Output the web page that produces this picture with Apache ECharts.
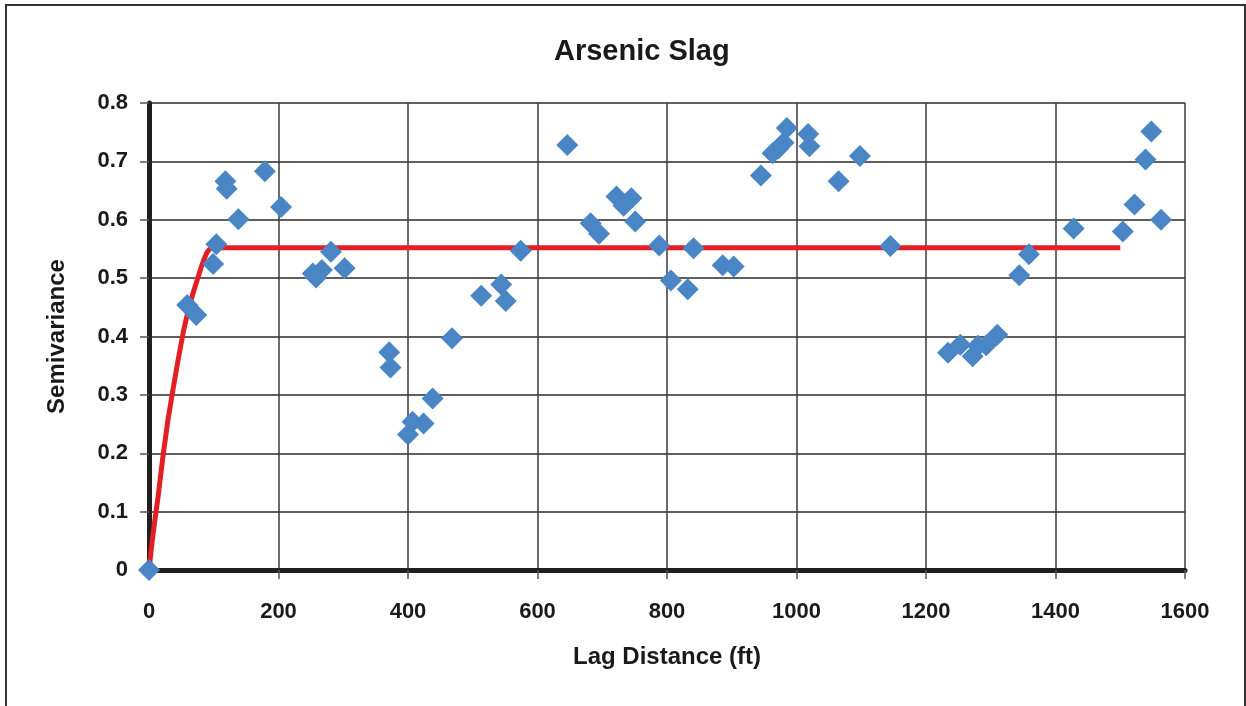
<!DOCTYPE html>
<html>
<head>
<meta charset="utf-8">
<script src="https://cdn.jsdelivr.net/npm/echarts@6/dist/echarts.min.js"></script>
<style>
  html, body { margin: 0; padding: 0; background: #fff; }
  #chart { width: 1246px; height: 706px; }
</style>
</head>
<body>
<div id="chart"></div>
<script>
// observed semivariance: lag distance (ft) and value
const lagX = [0, 59, 73, 99, 104, 118, 120, 138, 179, 204, 253, 258, 267, 281, 302,
  371, 373, 400, 407, 424, 438, 468, 513, 544, 551, 574,
  646, 682, 695, 722, 733, 745, 751, 788, 806, 832, 841, 886, 903,
  945, 963, 972, 980, 985, 1018, 1020, 1065, 1098, 1145,
  1234, 1253, 1272, 1280, 1293, 1310, 1344, 1359, 1428, 1504, 1522, 1539, 1548, 1563]
const gammaY = [0, 0.454, 0.437, 0.524, 0.558, 0.666, 0.653, 0.601, 0.683, 0.622, 0.508, 0.501, 0.514, 0.545, 0.517,
  0.373, 0.347, 0.232, 0.254, 0.251, 0.294, 0.397, 0.47, 0.489, 0.461, 0.547,
  0.728, 0.594, 0.576, 0.64, 0.624, 0.637, 0.597, 0.556, 0.496, 0.481, 0.551, 0.522, 0.52,
  0.676, 0.714, 0.722, 0.732, 0.757, 0.747, 0.726, 0.666, 0.709, 0.555,
  0.372, 0.386, 0.366, 0.384, 0.385, 0.403, 0.505, 0.541, 0.585, 0.58, 0.626, 0.703, 0.751, 0.6]

// fitted model curve
const modelX = [0, 2, 5, 9, 14, 21, 29, 37, 45, 53, 61, 68, 75, 81, 86, 90, 94, 98, 102, 1500]
const modelY = [0, 0.02, 0.05, 0.085, 0.125, 0.19, 0.255, 0.309, 0.36, 0.408, 0.447, 0.474, 0.499, 0.52, 0.535, 0.545, 0.55, 0.552, 0.552, 0.552]

const xTicks = [0, 1600, 200]
const yTicks = [0, 0.8, 0.1]

const font = '"Liberation Sans", Arial, sans-serif'
const chart = echarts.init(document.getElementById('chart'), null, { renderer: 'canvas' })

chart.setOption({
  backgroundColor: '#fff',
  animation: false,
  title: {
    text: 'Arsenic Slag',
    left: 549,
    top: 32,
    textStyle: { fontFamily: font, fontWeight: 'bold', fontSize: 29, color: '#1a1a1a' }
  },
  grid: { left: 149, right: 61, top: 103, bottom: 136, containLabel: false },
  xAxis: {
    type: 'value',
    min: xTicks[0], max: xTicks[1], interval: xTicks[2],
    name: 'Lag Distance (ft)',
    nameLocation: 'middle',
    nameGap: 75,
    nameTextStyle: { fontFamily: font, fontWeight: 'bold', fontSize: 24, color: '#1a1a1a' },
    axisLine: { show: true, onZero: false, lineStyle: { color: '#231f20', width: 5 } },
    axisTick: { show: true, length: 9, lineStyle: { color: '#555', width: 1.5 } },
    axisLabel: {
      fontFamily: font, fontWeight: 'bold', fontSize: 22, color: '#1a1a1a', margin: 31,
      formatter: v => String(v)
    },
    splitLine: { show: true, lineStyle: { color: '#3a3a3a', width: 1.5 } }
  },
  yAxis: {
    type: 'value',
    min: yTicks[0], max: yTicks[1], interval: yTicks[2],
    name: 'Semivariance',
    nameLocation: 'middle',
    nameGap: 80,
    nameTextStyle: { fontFamily: font, fontWeight: 'bold', fontSize: 24, color: '#1a1a1a' },
    axisLine: { show: true, onZero: false, lineStyle: { color: '#231f20', width: 5 } },
    axisTick: { show: true, length: 9, lineStyle: { color: '#555', width: 1.5 } },
    axisLabel: {
      fontFamily: font, fontWeight: 'bold', fontSize: 22, color: '#1a1a1a', margin: 21,
      formatter: v => String(Math.round(v * 10) / 10)
    },
    splitLine: { show: true, lineStyle: { color: '#2a2a2a', width: 1.5 } }
  },
  graphic: [{
    type: 'polyline',
    shape: { points: [[6, 706], [6, 5], [1245, 5], [1245, 706]] },
    style: { stroke: '#333', lineWidth: 2, fill: null },
    silent: true
  }],
  series: [
    {
      type: 'line',
      data: modelX.map((x, i) => [x, modelY[i]]),
      showSymbol: false,
      smooth: false,
      lineStyle: { color: '#e31f26', width: 5, join: 'round' },
      z: 2
    },
    {
      type: 'scatter',
      data: lagX.map((x, i) => [x, gammaY[i]]),
      symbol: 'diamond',
      symbolSize: 22,
      clip: false,
      itemStyle: { color: '#4a86c5', opacity: 1 },
      z: 3
    }
  ]
})
</script>
</body>
</html>
